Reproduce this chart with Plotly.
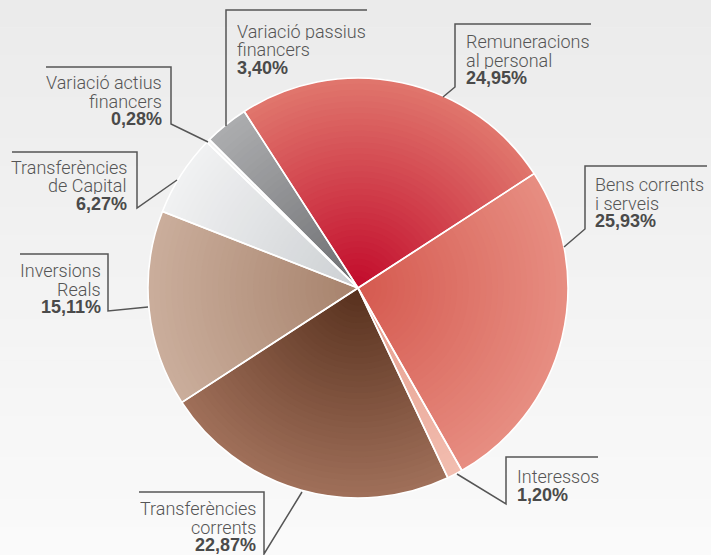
import plotly.graph_objects as go

# ---------------- data ----------------
labels = ["Remuneracions al personal", "Bens corrents i serveis", "Interessos",
          "Transferències corrents", "Inversions Reals", "Transferències de Capital",
          "Variació actius financers", "Variació passius financers"]
values = [24.95, 25.93, 1.20, 22.87, 15.11, 6.27, 0.28, 3.40]
label_lines = [["Remuneracions", "al personal"], ["Bens corrents", "i serveis"],
               ["Interessos"], ["Transferències", "corrents"], ["Inversions", "Reals"],
               ["Transferències", "de Capital"], ["Variació actius", "financers"],
               ["Variació passius", "financers"]]

# ---------------- style ----------------
inner_cols = ["#c20a2b", "#d5594f", "#e59c8c", "#57301d", "#a6826c", "#cdd0d3", "#e6e6e6", "#6c6d70"]
outer_cols = ["#e0776d", "#e78e82", "#f2bdaf", "#a0705a", "#cbae9c", "#f0f1f2", "#f5f5f5", "#acadaf"]

W, H = 711, 555
CX, CY, R = 358, 288, 210          # pie centre / radius in px
ROT = -32.8

# leader lines (px) and text placement (px): (path, text_x, anchor, first_baseline)
leaders = [
    ([(591, 24), (455, 24), (455, 87), (443, 97)], 465, "left", 47),
    ([(707, 166), (585, 166), (585, 229), (564, 247)], 594, "left", 190),
    ([(598, 457), (506, 457), (506, 504), (457, 474)], 516, "left", 482),
    ([(139, 492), (264, 492), (264, 554), (302, 492)], 257, "right", 514),
    ([(20, 254), (108, 254), (108, 311), (148, 307)], 102, "right", 276),
    ([(12, 152), (137, 152), (137, 208), (177, 180)], 128, "right", 173),
    ([(46, 67), (171, 67), (171, 124), (208, 142)], 163, "right", 88),
    ([(367, 10), (226, 10), (226, 126)], 236, "left", 36.7),
]
LINE_STEP = 18.5


def hex2rgb(h):
    h = h.lstrip("#")
    return [int(h[i:i + 2], 16) for i in (0, 2, 4)]


def mix(a, b, t):
    ca, cb = hex2rgb(a), hex2rgb(b)
    return "rgb(%d,%d,%d)" % tuple(round(ca[i] + (cb[i] - ca[i]) * t) for i in range(3))


def px(x):
    return x / W


def py(y):
    return 1 - y / H


def domain_for(r):
    return dict(x=[(CX - r) / W, (CX + r) / W], y=[(H - CY - r) / H, (H - CY + r) / H])


fig = go.Figure()

# radial gradient: stack of concentric pies, outermost first
N = 36
for k in range(N, 0, -1):
    r = R * k / N
    t = (k - 0.5) / N
    cols = [mix(inner_cols[i], outer_cols[i], t) for i in range(len(values))]
    fig.add_trace(go.Pie(labels=labels, values=values, sort=False, direction="clockwise",
                         rotation=ROT, domain=domain_for(r), textinfo="none",
                         hoverinfo="skip", showlegend=False,
                         marker=dict(colors=cols, line=dict(width=0))))

# white separators on top
fig.add_trace(go.Pie(labels=labels, values=values, sort=False, direction="clockwise",
                     rotation=ROT, domain=domain_for(R), textinfo="none",
                     hovertemplate="%{label}: %{value:.2f}%<extra></extra>", showlegend=False,
                     marker=dict(colors=["rgba(0,0,0,0)"] * len(values),
                                 line=dict(color="white", width=1.6))))

shapes = []
# background vertical gradient
NB = 40
for i in range(NB):
    shapes.append(dict(type="rect", xref="paper", yref="paper", x0=0, x1=1,
                       y0=1 - (i + 1) / NB, y1=1 - i / NB + 0.001, layer="below",
                       line=dict(width=0), fillcolor=mix("#ebebeb", "#fafafa", i / (NB - 1))))

annotations = []
for i, (path, tx, anchor, base) in enumerate(leaders):
    d = "M " + " L ".join("%.5f,%.5f" % (px(x), py(y)) for x, y in path)
    shapes.append(dict(type="path", xref="paper", yref="paper", path=d,
                       line=dict(color="#555555", width=1.5)))
    lines = label_lines[i] + [("%.2f" % values[i]).replace(".", ",") + "%"]
    for j, txt in enumerate(lines):
        bold = j == len(lines) - 1
        yb = base + j * LINE_STEP
        if bold:
            font = dict(family="Liberation Sans, Arial, sans-serif", size=18,
                        weight=700, color="#4a4a4a")
        else:
            font = dict(family="Roboto, Liberation Sans, Arial, sans-serif", size=18,
                        weight=300, color="#555555")
        annotations.append(dict(
            x=px(tx), y=py(yb - 6), xref="paper", yref="paper", xanchor=anchor,
            yanchor="middle", showarrow=False, align=anchor, height=18, valign="middle",
            borderpad=0, text=txt, font=font))

fig.update_layout(width=W, height=H, autosize=False, margin=dict(l=0, r=0, t=0, b=0),
                  paper_bgcolor="#f2f2f2", plot_bgcolor="rgba(0,0,0,0)",
                  shapes=shapes, annotations=annotations)

fig.write_html("out.html")
